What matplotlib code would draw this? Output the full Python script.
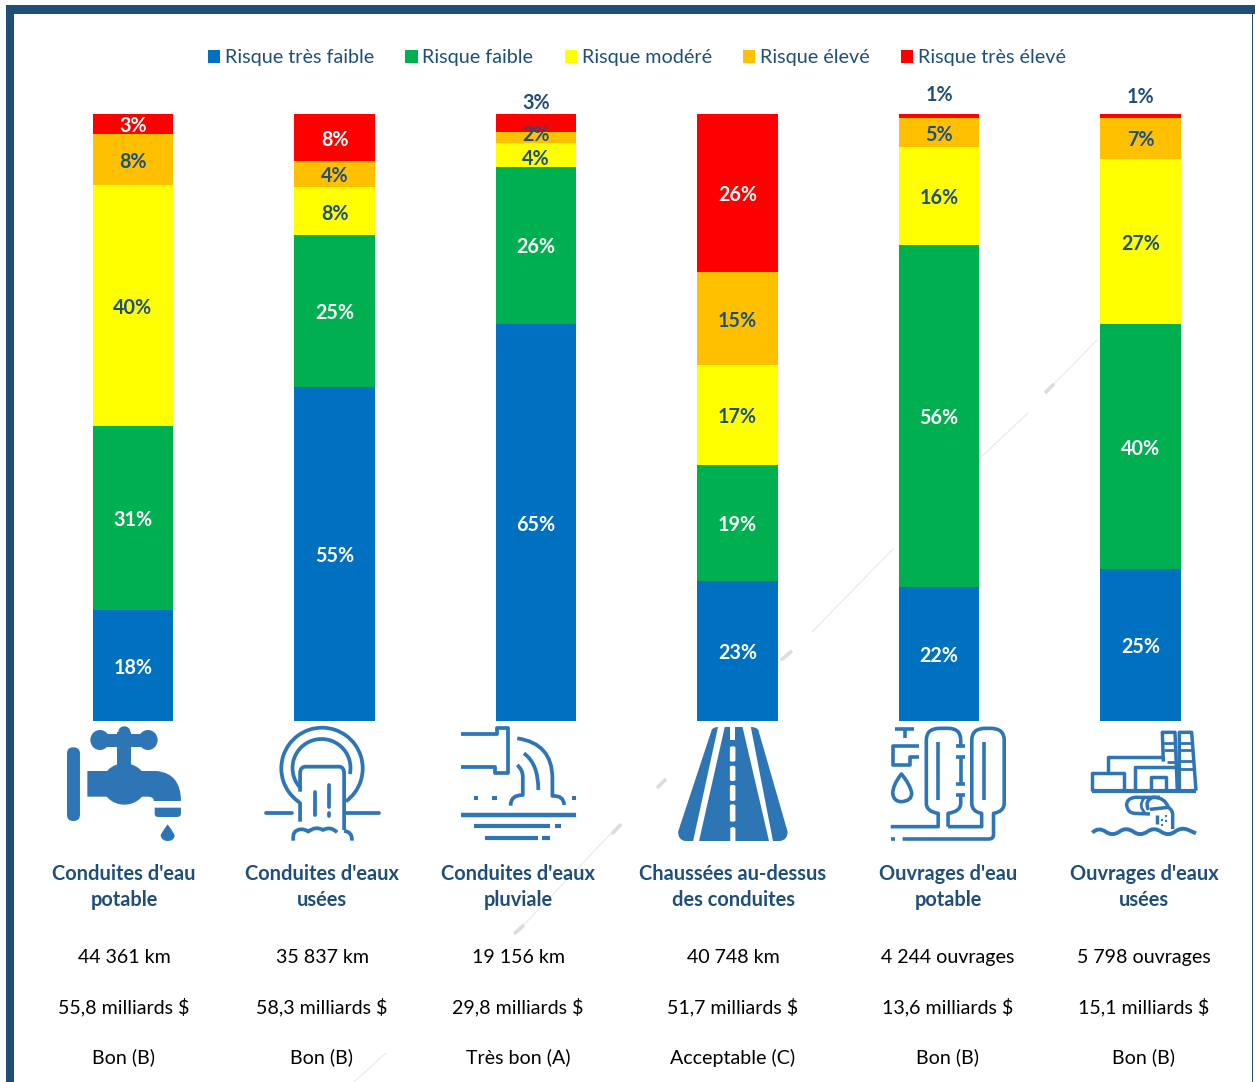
import re
import matplotlib
matplotlib.use("Agg")
import matplotlib.pyplot as plt
from matplotlib.path import Path
from matplotlib.patches import PathPatch, Rectangle, Ellipse, Arc
from matplotlib.transforms import offset_copy

W, H = 1255, 1082
FONT = "Lato"
plt.rcParams["font.family"] = [FONT, "DejaVu Sans"]

# ---- data ----
risks = ["Risque très faible", "Risque faible", "Risque modéré", "Risque élevé", "Risque très élevé"]
colors = ["#0070C0", "#00B050", "#FFFF00", "#FFC000", "#FF0000"]
label_colors = ["white", "white", "#1F4E79", "#1F4E79", "white"]

tres_faible = [18.3, 55.0, 65.4, 23.1, 22.1, 25.0]
faible = [30.3, 25.0, 25.9, 19.1, 56.3, 40.4]
modere = [39.7, 7.9, 4.0, 16.5, 16.1, 27.2]
eleve = [8.4, 4.3, 1.7, 15.2, 4.9, 6.8]
tres_eleve = [3.3, 7.8, 3.0, 26.1, 0.6, 0.6]

lab_tres_faible = [18, 55, 65, 23, 22, 25]
lab_faible = [31, 25, 26, 19, 56, 40]
lab_modere = [40, 8, 4, 17, 16, 27]
lab_eleve = [8, 4, 2, 15, 5, 7]
lab_tres_eleve = [3, 8, 3, 26, 1, 1]

names = [["Conduites d'eau", "potable"], ["Conduites d'eaux", "usées"], ["Conduites d'eaux", "pluviale"],
         ["Chaussées au-dessus", "des conduites"], ["Ouvrages d'eau", "potable"], ["Ouvrages d'eaux", "usées"]]
quantities = ["44 361 km", "35 837 km", "19 156 km", "40 748 km", "4 244 ouvrages", "5 798 ouvrages"]
costs = ["55,8 milliards $", "58,3 milliards $", "29,8 milliards $", "51,7 milliards $", "13,6 milliards $", "15,1 milliards $"]
grades = ["Bon (B)", "Bon (B)", "Très bon (A)", "Acceptable (C)", "Bon (B)", "Bon (B)"]

DARK = "#1F4E79"
ICON = "#2E75B6"
text_x = [124, 322, 518, 733, 948, 1144]

fig = plt.figure(figsize=(W / 100, H / 100), dpi=100, facecolor="white")

# ---- background layer (frame, faint streaks) ----
bg = fig.add_axes([0, 0, 1, 1], zorder=0)
bg.set_xlim(0, W); bg.set_ylim(H, 0); bg.axis("off")
bg.add_patch(Rectangle((6, 5), W - 6, 8.5, color=DARK, lw=0))
bg.add_patch(Rectangle((6, 5), 8, H - 5, color=DARK, lw=0))
bg.add_patch(Rectangle((1251.5, 13), 1.2, H - 13, color=DARK, lw=0))
for a, b in [((1097, 340), (1053, 385)), ((1028, 413), (980, 458)), ((893, 549), (812, 632)),
             ((618, 826), (518, 931)), ((386, 1053), (354, 1082)), ((781, 660), (777, 664))]:
    bg.plot([a[0], b[0]], [a[1], b[1]], color="#E8E8E8", lw=0.8, solid_capstyle="butt")
for a, b in [((1045, 393), (1054, 384)), ((781, 660), (792, 651)), ((657, 788), (666, 779)),
             ((612, 834), (621, 824)), ((514, 934), (524, 925))]:
    bg.plot([a[0], b[0]], [a[1], b[1]], color="#DCDCDC", lw=2.6, solid_capstyle="butt")

# ---- stacked bars ----
x0, x1, ytop, ybot = 32.25, 1241.25, 114, 721
ax = fig.add_axes([x0 / W, 1 - ybot / H, (x1 - x0) / W, (ybot - ytop) / H], zorder=1)
ax.patch.set_alpha(0)
ax.set_xlim(-0.5, 5.5)
ax.set_ylim(0, 100)
ax.axis("off")
series = [tres_faible, faible, modere, eleve, tres_eleve]
labels = [lab_tres_faible, lab_faible, lab_modere, lab_eleve, lab_tres_eleve]
outside_offset = {2: 8.2, 4: 13.6, 5: 12.4}
crowded_offset = {(3, 2): 3.0, (2, 2): -1.5}
bottom = [0.0] * 6
handles = []
for k, (vals, labs) in enumerate(zip(series, labels)):
    bars = ax.bar(range(6), vals, bottom=bottom, width=0.4, color=colors[k], label=risks[k], clip_on=False)
    handles.append(bars)
    for i in range(6):
        if k == 4 and i in outside_offset:
            ax.annotate(f"{labs[i]}%", (i, 100), xytext=(0, outside_offset[i]), textcoords="offset points",
                        ha="center", va="center", color=DARK, fontweight="bold", fontsize=14.2, annotation_clip=False)
        else:
            dy = -1.5 + crowded_offset.get((k, i), 0)
            ax.annotate(f"{labs[i]}%", (i, bottom[i] + vals[i] / 2), xytext=(0, dy), textcoords="offset points",
                        ha="center", va="center", color=label_colors[k], fontweight="bold", fontsize=14.2)
    bottom = [b + v for b, v in zip(bottom, vals)]

leg = fig.legend(handles=handles, labels=risks, loc="center", bbox_to_anchor=(637 / W, 1 - 58 / H), ncols=5, frameon=False,
                 fontsize=14.2, labelcolor=DARK, handlelength=0.62, handleheight=0.62, handletextpad=0.25, columnspacing=1.58)

# ---- overlay layer (icons and texts, pixel coordinates) ----
ov = fig.add_axes([0, 0, 1, 1], zorder=2)
ov.set_xlim(0, W); ov.set_ylim(H, 0); ov.axis("off"); ov.patch.set_alpha(0)

for i in range(6):
    tx = text_x[i]
    ov.text(tx, 874.5, names[i][0], ha="center", va="center", color=DARK, fontweight="bold", fontsize=14.4)
    ov.text(tx, 900.5, names[i][1], ha="center", va="center", color=DARK, fontweight="bold", fontsize=14.4)
    ov.text(tx, 957.5, quantities[i], ha="center", va="center", color="black", fontsize=14.1)
    ov.text(tx, 1007.5, costs[i], ha="center", va="center", color="black", fontsize=14.1)
    ov.text(tx, 1057.5, grades[i], ha="center", va="center", color="black", fontsize=14.1)


def make_path(d, tf):
    toks = re.findall(r"[MLQZ]|-?[\d.]+", d)
    verts, codes, j = [], [], 0
    while j < len(toks):
        c = toks[j]; j += 1
        if c == "M" or c == "L":
            verts.append(tf(float(toks[j]), float(toks[j + 1]))); j += 2
            codes.append(Path.MOVETO if c == "M" else Path.LINETO)
        elif c == "Q":
            verts.append(tf(float(toks[j]), float(toks[j + 1])))
            verts.append(tf(float(toks[j + 2]), float(toks[j + 3]))); j += 4
            codes += [Path.CURVE3, Path.CURVE3]
        elif c == "Z":
            verts.append(verts[-1]); codes.append(Path.CLOSEPOLY)
    return Path(verts, codes)


def stroke(d, tf, lw=2.7, cap="butt"):
    ov.add_patch(PathPatch(make_path(d, tf), fc="none", ec=ICON, lw=lw, capstyle=cap, joinstyle="round"))


def fill(d, tf, color=ICON):
    ov.add_patch(PathPatch(make_path(d, tf), fc=color, ec="none", lw=0))


Z1 = lambda x, y: (40 + x / 2.703, 715 + y / 3)
Z2 = lambda x, y: (620 + x / 2.53, 715 + y / 3)
Z7 = lambda x, y: (1060 + x / 3, 720 + y / 3)


def ell(tf, cx, cy, rx, ry, color=ICON):
    px, py = tf(cx, cy)
    qx, qy = tf(cx + rx, cy + ry)
    ov.add_patch(Ellipse((px, py), 2 * (qx - px), 2 * (qy - py), fc=color, ec="none"))


# faucet
fill("M 73 115 Q 73 97 90 97 Q 108 97 108 115 L 108 300 Q 108 318 90 318 Q 73 318 73 300 Z", Z1)
ell(Z1, 162, 75, 26, 30); ell(Z1, 292, 75, 26, 30); ell(Z1, 228, 50, 16, 16)
fill("M 160 58 L 296 58 L 296 96 L 160 96 Z", Z1)
fill("M 208 50 L 247 50 L 247 170 L 208 170 Z", Z1)
fill("M 128 168 L 315 168 Q 381 175 381 258 L 308 258 Q 308 245 290 245 L 128 245 Z", Z1)
ell(Z1, 228, 207, 60, 62)
fill("M 310 278 L 381 278 L 381 296 Q 381 306 370 306 L 320 306 Q 310 306 310 296 Z", Z1)
fill("M 345 328 Q 325 358 326 362 Q 330 378 345 378 Q 362 378 364 362 Q 364 356 345 328 Z", Z1)

# drain 2
ov.add_patch(Arc((322, 768.4), 81.4, 81.4, theta1=126, theta2=414, ec=ICON, lw=2.7))
ov.add_patch(Arc((321.5, 768), 58, 58, theta1=135, theta2=372, ec=ICON, lw=2.7))
stroke("M 697 258 L 703 265 L 703 320", Z1)
stroke("M 703 230 L 703 175 Q 703 155 718 155 L 808 155 Q 822 155 822 175 L 822 345", Z1)
stroke("M 610 293 L 680 293", Z1, cap="round"); stroke("M 828 293 L 915 293", Z1, cap="round")
stroke("M 742 232 L 742 300", Z1, cap="round"); stroke("M 781 210 L 781 275", Z1, cap="round")
stroke("M 781 293 L 781 302", Z1, cap="round")
stroke("M 685 377 Q 680 345 705 343 Q 718 342 725 350 Q 745 332 765 345 Q 785 332 803 352", Z1)
stroke("M 822 348 Q 845 350 843 377", Z1)

# drain 3
stroke("M 1138 57 L 1235 57 L 1235 40 L 1265 40 L 1265 175 L 1230 175 L 1230 157 L 1138 157", Z1)
stroke("M 1290 70 Q 1385 85 1385 190 L 1385 243 Q 1415 240 1417 270", Z1)
stroke("M 1308 115 Q 1347 145 1347 225", Z1)
stroke("M 1290 150 Q 1305 165 1305 185 L 1305 240 Q 1272 240 1272 272", Z1)
for dx in (1178, 1228, 1443):
    fill(f"M {dx-6} 244 L {dx+6} 244 L {dx+6} 256 L {dx-6} 256 Z", Z1)
stroke("M 1138 300 L 1449 300", Z1, lw=3.2)
stroke("M 1172 334 L 1378 334", Z1, lw=3); stroke("M 1392 334 L 1408 334", Z1, lw=3)
stroke("M 1202 370 L 1345 370", Z1, lw=3); stroke("M 1358 370 L 1378 370", Z1, lw=3)

# road
fill("M 232 45 Q 236 36 248 36 L 185 378 L 165 378 Q 147 375 147 350 Z", Z2)
fill("M 331 36 Q 345 36 350 45 L 424 350 Q 424 375 405 378 L 387 378 Z", Z2)
fill("M 265 36 L 310 36 L 377 378 L 200 378 Z", Z2)
fill("M 279 36 L 292 36 L 292 76 L 279 76 Z", Z2, "white")
for a, b in [(94, 140), (152, 198), (210, 258), (268, 320)]:
    fill(f"M 278 {a+4} Q 278 {a} 285 {a} Q 292 {a} 292 {a+4} L 292 {b-4} Q 292 {b} 285 {b} Q 278 {b} 278 {b-4} Z", Z2, "white")
fill("M 279 340 Q 285 332 292 340 L 292 378 L 279 378 Z", Z2, "white")

# water works
L = 2.6
stroke("M 697 42 L 745 42", Z2, L); stroke("M 720 42 L 720 70", Z2, L)
stroke("M 757 92 L 690 92 L 690 150 L 733 150 L 733 127 L 757 127", Z2, L)
stroke("M 712 177 Q 690 210 690 235 Q 692 260 712 260 Q 738 258 738 235 Q 735 210 712 177 Z", Z2, L)
stroke("M 685 335 L 805 335 L 805 295 Q 775 290 775 265 L 775 75 Q 775 40 810 40 L 830 40 Q 862 40 862 75 L 862 92", Z2, L)
stroke("M 830 335 L 830 295 Q 862 290 862 265 L 862 240", Z2, L)
stroke("M 805 80 L 805 255", Z2, L); stroke("M 920 80 L 920 255", Z2, L)
stroke("M 850 92 L 872 92", Z2, L); stroke("M 850 127 L 872 127", Z2, L)
stroke("M 862 127 L 862 208", Z2, L); stroke("M 850 208 L 872 208", Z2, L); stroke("M 850 240 L 872 240", Z2, L)
stroke("M 830 335 L 915 335 L 915 295 Q 890 290 890 265 L 890 75 Q 890 40 925 40 L 937 40 Q 972 40 972 75 L 972 265 "
       "Q 972 290 945 295 L 945 360 Q 945 372 932 372 L 715 372", Z2, L)
stroke("M 685 372 L 697 372", Z2, L)

# wastewater plant
L = 2.5
stroke("M 95 212 L 408 212", Z7, 3)
stroke("M 97 212 L 97 160 L 193 160 L 193 212", Z7, L)
stroke("M 143 160 L 143 112 L 310 112", Z7, L)
stroke("M 225 212 L 225 140 L 345 140", Z7, L)
stroke("M 272 212 L 272 172 L 318 172 L 318 212", Z7, L)
stroke("M 310 125 L 307 37 L 345 37 L 352 212", Z7, L)
stroke("M 358 212 L 358 37 L 395 37 L 408 212", Z7, L)
for a, b, y in [(310, 345, 68), (312, 347, 90), (320, 349, 125), (358, 397, 68), (358, 399, 90), (358, 401, 122), (358, 403, 148)]:
    stroke(f"M {a} {y} L {b} {y}", Z7, 2)
stroke("M 300 232 L 225 232 Q 200 235 200 255 Q 203 280 225 280 L 270 282", Z7, L)
stroke("M 252 235 Q 232 258 258 282", Z7, 2)
stroke("M 265 270 Q 252 240 280 232 Q 315 232 325 262 L 270 268", Z7, L)
stroke("M 325 262 Q 338 270 338 285 L 338 327", Z7, L)
stroke("M 290 285 L 290 312", Z7, L)
for dx, dy in [(305, 315), (305, 300), (318, 288), (318, 302)]:
    fill(f"M {dx-3} {dy-3} L {dx+3} {dy-3} L {dx+3} {dy+3} L {dx-3} {dy+3} Z", Z7)
stroke("M 97 338 Q 115 320 137 335 Q 157 350 178 335 Q 198 320 220 335 Q 240 350 262 335 "
       "Q 282 320 303 335 Q 325 350 345 335 Q 365 320 385 330 L 408 340", Z7, 2.8)

fig.savefig("out.png", dpi=100, facecolor="white")
